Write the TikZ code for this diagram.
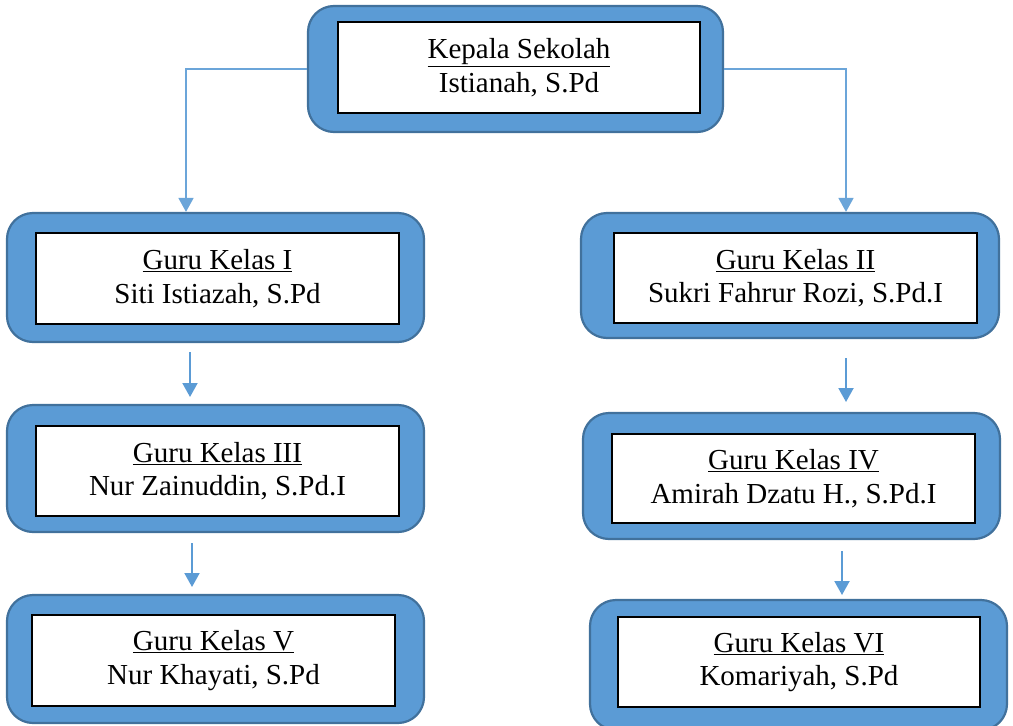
\documentclass[tikz,border=0pt]{standalone}
\usepackage{fontspec}
\setmainfont{Liberation Serif}
\usetikzlibrary{arrows.meta}
\definecolor{boxblue}{HTML}{5B9BD5}
\definecolor{boxedge}{HTML}{41719C}
\begin{document}
\begin{tikzpicture}[x=1pt,y=-1pt,
  outerbox/.style={draw=boxedge, line width=2.2pt, fill=boxblue, rounded corners=26pt, inner sep=0pt},
  innerbox/.style={draw=black, line width=1.3pt, fill=white, inner sep=0pt, align=center,
    font=\fontsize{29}{33.5}\selectfont},
  conn/.style={draw=boxblue, line width=2pt, -{Triangle[width=15pt,length=14pt]}},
  topconn/.style={draw=boxblue!90!white, line width=1.6pt, -{Triangle[width=15pt,length=14pt]}}
]
\useasboundingbox (0,0) rectangle (1013,726);
\fill[white] (0,0) rectangle (1013,726);

% top box
\node[outerbox, minimum width=415pt, minimum height=126pt] (top) at (515.5,69) {};
\node[innerbox, minimum width=362pt, minimum height=91pt] (topi) at (519,67.5) {\underline{Kepala Sekolah}\\Istianah, S.Pd};

% left column
\node[outerbox, minimum width=417pt, minimum height=129pt] (k1) at (215.5,277.5) {};
\node[innerbox, minimum width=363pt, minimum height=91pt] (k1i) at (217.5,278.5) {\underline{Guru Kelas I}\\Siti Istiazah, S.Pd};

\node[outerbox, minimum width=417pt, minimum height=127pt] (k3) at (215.5,468.5) {};
\node[innerbox, minimum width=363pt, minimum height=90pt] (k3i) at (217.5,471) {\underline{Guru Kelas III}\\Nur Zainuddin, S.Pd.I};

\node[outerbox, minimum width=417pt, minimum height=128pt] (k5) at (215.5,659) {};
\node[innerbox, minimum width=363pt, minimum height=91pt] (k5i) at (213.5,660.5) {\underline{Guru Kelas V}\\Nur Khayati, S.Pd};

% right column
\node[outerbox, minimum width=418pt, minimum height=125pt] (k2) at (790,275.5) {};
\node[innerbox, minimum width=363pt, minimum height=90pt] (k2i) at (795.5,278) {\underline{Guru Kelas II}\\Sukri Fahrur Rozi, S.Pd.I};

\node[outerbox, minimum width=417pt, minimum height=126pt] (k4) at (791.5,476) {};
\node[innerbox, minimum width=363pt, minimum height=89pt] (k4i) at (793.5,478.5) {\underline{Guru Kelas IV}\\Amirah Dzatu H., S.Pd.I};

\node[outerbox, minimum width=417pt, minimum height=130pt] (k6) at (798.5,665) {};
\node[innerbox, minimum width=362pt, minimum height=90pt] (k6i) at (799,662) {\underline{Guru Kelas VI}\\Komariyah, S.Pd};

% connectors from top
\coordinate (cl) at (186,0);
\coordinate (cr) at (846,0);
\draw[topconn] (top.west) -| (cl |- k1.north);
\draw[topconn] (top.east) -| (cr |- k2.north);

% down arrows
\coordinate (a1s) at (190,352);
\coordinate (a1e) at (190,397);
\coordinate (a2s) at (192,543);
\coordinate (a2e) at (192,587);
\coordinate (a3s) at (846,358);
\coordinate (a3e) at (846,402);
\coordinate (a4s) at (842,551);
\coordinate (a4e) at (842,595);
\draw[conn] (a1s) -- (a1e);
\draw[conn] (a2s) -- (a2e);
\draw[conn] (a3s) -- (a3e);
\draw[conn] (a4s) -- (a4e);
\end{tikzpicture}
\end{document}
